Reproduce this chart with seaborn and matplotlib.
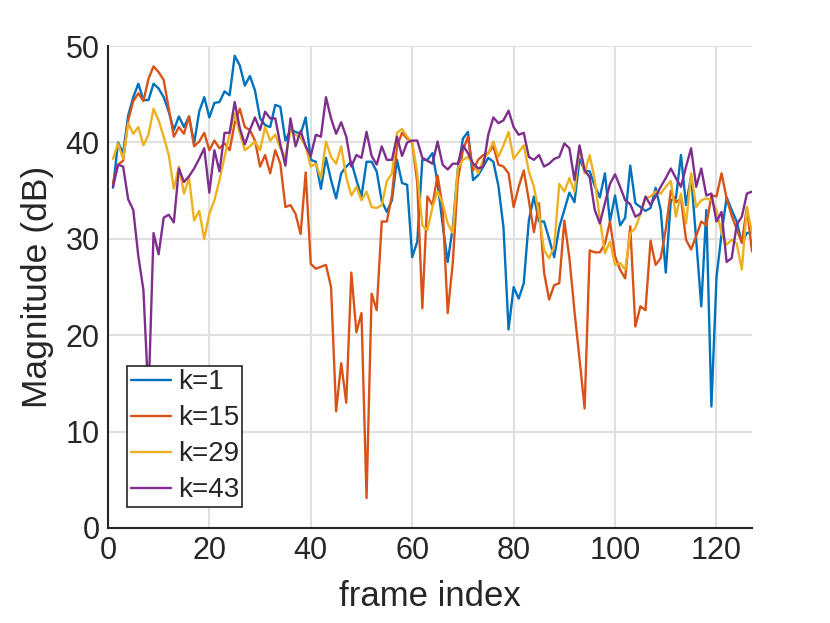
import numpy as np
import pandas as pd
import matplotlib
matplotlib.use("Agg")
import matplotlib.pyplot as plt
import seaborn as sns

# Magnitude (dB) per frame for four frequency bins k
frames = np.arange(1, 128)

k1 = [35.3, 40.0, 38.9, 42.8, 44.7, 46.1, 44.4, 44.4, 46.1, 45.6,
      44.7, 43.2, 41.3, 42.7, 41.6, 42.7, 39.9, 43.2, 44.7, 42.6,
      44.1, 44.2, 45.3, 44.9, 49.0, 48.0, 45.9, 46.9, 45.4, 42.5,
      41.8, 41.6, 43.9, 43.7, 40.2, 41.3, 41.1, 40.9, 42.6, 38.2,
      38.0, 35.2, 38.4, 36.1, 34.2, 36.8, 37.5, 38.0, 36.1, 34.4,
      38.0, 38.0, 37.0, 33.9, 32.8, 34.0, 38.2, 35.8, 35.6, 28.1,
      29.7, 38.2, 38.2, 38.9, 35.8, 31.5, 27.6, 31.2, 37.2, 40.4,
      41.1, 36.1, 36.6, 37.5, 38.4, 38.0, 35.5, 31.2, 20.6, 25.0,
      23.8, 25.4, 31.9, 34.4, 31.8, 31.8, 30.0, 28.1, 31.2, 33.0,
      34.8, 33.8, 38.3, 37.1, 37.0, 35.5, 34.3, 36.8, 31.8, 34.5,
      31.4, 32.2, 37.6, 33.7, 33.3, 32.9, 33.2, 35.3, 33.0, 26.5,
      34.0, 34.2, 38.7, 33.5, 36.5, 29.9, 23.0, 33.0, 12.6, 26.0,
      30.5, 34.3, 33.0, 31.8, 29.6, 30.6, 30.7]

k15 = [35.8, 37.7, 38.1, 42.3, 44.3, 45.1, 44.3, 46.6, 47.9, 47.3,
       46.5, 43.5, 40.6, 41.6, 40.9, 42.7, 39.6, 40.1, 41.0, 39.2,
       40.2, 39.4, 39.9, 39.2, 42.0, 43.5, 41.6, 41.3, 40.2, 37.5,
       38.7, 36.8, 39.2, 37.8, 33.3, 33.5, 32.6, 30.5, 36.9, 27.4,
       26.9, 27.1, 27.3, 25.0, 12.1, 17.1, 13.0, 26.5, 20.3, 22.3,
       3.1, 24.3, 22.6, 31.8, 31.8, 34.5, 39.6, 41.0, 40.4, 40.0,
       35.8, 22.8, 34.4, 33.5, 36.6, 33.3, 22.3, 27.5, 36.1, 39.2,
       40.6, 37.1, 38.2, 38.7, 38.9, 39.6, 37.7, 37.5, 36.8, 33.3,
       35.4, 37.1, 34.0, 30.7, 33.7, 26.5, 23.7, 25.2, 25.4, 31.9,
       28.0, 22.5, 17.5, 12.4, 28.8, 28.6, 28.6, 29.5, 31.8, 28.2,
       26.8, 25.9, 31.3, 20.9, 23.0, 22.6, 29.8, 27.3, 28.0, 31.0,
       35.0, 33.8, 34.2, 29.9, 28.9, 30.3, 31.8, 31.4, 34.5, 34.4,
       36.8, 34.2, 32.4, 31.0, 29.6, 33.3, 28.7]

k29 = [38.3, 39.9, 38.3, 42.0, 40.9, 41.6, 39.7, 40.8, 43.5, 42.3,
       40.6, 38.7, 35.2, 37.5, 34.7, 36.3, 31.9, 32.9, 30.0, 32.6,
       34.0, 36.1, 38.5, 40.9, 43.0, 41.0, 39.2, 39.6, 40.1, 39.2,
       41.6, 40.2, 40.8, 39.4, 38.5, 41.2, 40.8, 40.5, 39.6, 37.5,
       37.8, 36.3, 40.1, 38.5, 37.8, 39.6, 36.4, 34.5, 35.4, 34.0,
       34.9, 33.3, 33.2, 33.5, 36.0, 36.8, 41.0, 41.4, 40.6, 40.0,
       36.8, 31.4, 30.9, 33.3, 34.9, 33.7, 31.6, 30.6, 37.3, 38.2,
       38.5, 37.8, 36.8, 38.2, 38.9, 40.1, 38.5, 39.7, 41.1, 38.3,
       39.0, 39.7, 37.0, 35.4, 32.6, 28.8, 28.0, 29.2, 35.7, 34.9,
       36.3, 34.9, 39.6, 36.8, 38.7, 36.1, 32.1, 28.5, 29.7, 27.3,
       27.5, 26.8, 30.6, 31.1, 32.6, 34.2, 34.4, 34.9, 34.7, 35.4,
       36.0, 32.3, 34.7, 31.6, 36.8, 33.3, 34.0, 34.2, 34.0, 33.0,
       30.6, 29.4, 29.9, 29.5, 26.8, 33.3, 30.6]

k43 = [35.4, 37.7, 37.5, 34.1, 33.0, 28.2, 24.7, 13.5, 30.6, 28.4,
       32.2, 32.5, 31.7, 37.3, 35.9, 36.5, 37.3, 38.3, 39.4, 34.8,
       39.2, 37.0, 41.0, 41.0, 44.2, 41.5, 39.8, 41.3, 42.6, 41.3,
       43.2, 42.5, 42.5, 39.8, 37.6, 42.5, 39.6, 41.2, 39.6, 38.6,
       40.8, 40.6, 44.7, 42.5, 40.9, 42.1, 40.6, 37.5, 38.7, 38.4,
       41.1, 38.6, 37.7, 39.6, 38.2, 38.2, 40.6, 38.6, 40.0, 40.2,
       40.2, 38.4, 38.1, 37.8, 40.1, 37.7, 37.2, 37.8, 37.8, 39.7,
       38.9, 37.8, 37.3, 37.5, 40.8, 42.6, 42.0, 42.3, 43.3, 41.6,
       40.8, 41.0, 38.5, 38.2, 38.7, 37.5, 37.8, 38.3, 38.5, 39.9,
       39.4, 36.1, 39.7, 37.1, 36.4, 33.0, 31.6, 33.7, 35.7, 36.7,
       35.4, 34.0, 33.6, 32.3, 32.6, 34.4, 33.5, 34.4, 35.4, 36.3,
       37.3, 36.3, 35.4, 37.5, 39.4, 35.4, 37.3, 34.5, 34.7, 31.8,
       32.8, 27.6, 28.0, 31.5, 32.3, 34.7, 34.9]

labels = ["k=1", "k=15", "k=29", "k=43"]
colors = ["#0072BD", "#D95319", "#EDB120", "#7E2F8E"]

df = pd.concat([
    pd.DataFrame({"frame": frames, "mag": vals, "k": lab})
    for vals, lab in zip([k1, k15, k29, k43], labels)
])

sns.set_theme(style="whitegrid")
plt.rcParams["font.family"] = ["Liberation Sans", "DejaVu Sans"]

fig = plt.figure(figsize=(8.3, 6.23), dpi=100)
ax = fig.add_axes([0.130, 0.1525, 0.776, 0.7735])

sns.lineplot(data=df, x="frame", y="mag", hue="k", hue_order=labels,
             palette=colors, estimator=None, sort=False, linewidth=1.7, ax=ax)

ax.set_xlim(0, 127)
ax.set_ylim(0, 50)
ax.set_xticks(range(0, 121, 20))
ax.set_yticks(range(0, 51, 10))
ax.grid(True, color="#e0e0e0", linewidth=1.5)
ax.set_axisbelow(True)
for side in ["top", "right"]:
    ax.spines[side].set_visible(False)
for side in ["left", "bottom"]:
    ax.spines[side].set_color("#262626")
    ax.spines[side].set_linewidth(1.5)
ax.tick_params(direction="in", length=6, width=1.5, color="#262626",
               labelsize=22, labelcolor="#262626", pad=6)
ax.set_xlabel("frame index", fontsize=25, color="#262626", labelpad=10)
ax.set_ylabel("Magnitude (dB)", fontsize=25.5, color="#262626", labelpad=8)

leg = ax.legend(loc="lower left", bbox_to_anchor=(0.03, 0.044), borderaxespad=0,
                fontsize=20, frameon=True, fancybox=False, framealpha=1,
                edgecolor="#262626", handlelength=1.45, handletextpad=0.25,
                borderpad=0.12, labelspacing=0.36)
leg.get_frame().set_linewidth(1.2)
for line in leg.get_lines():
    line.set_linewidth(1.7)

fig.savefig("out.png", dpi=100, facecolor="white")
